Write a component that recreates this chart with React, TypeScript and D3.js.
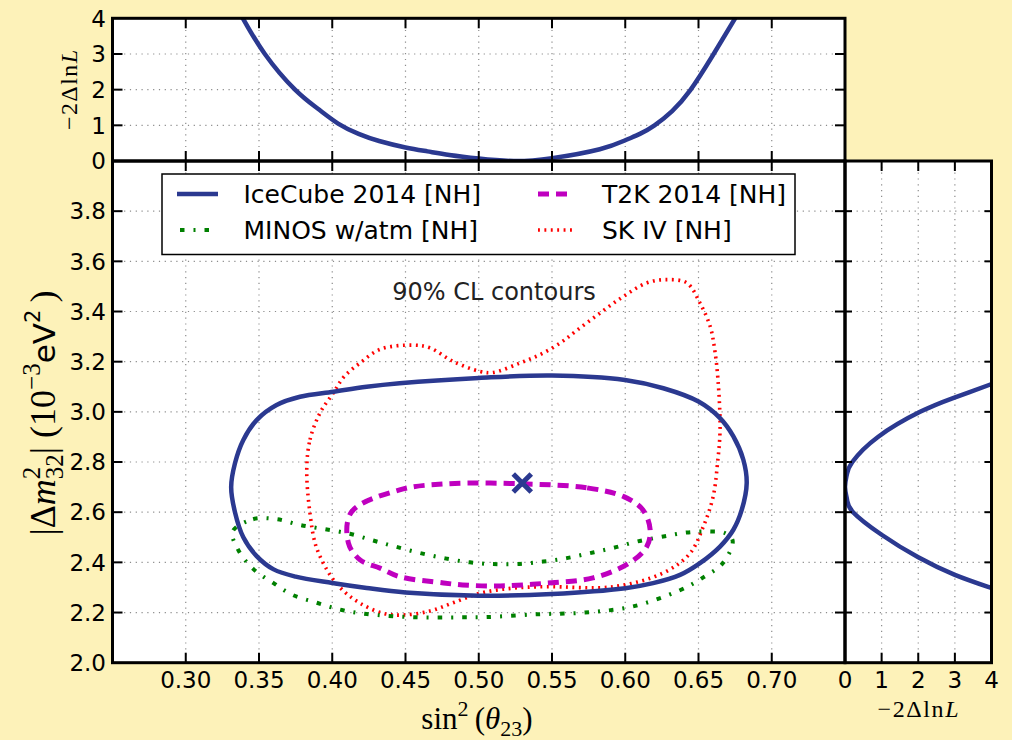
import React from 'react';
import * as d3 from 'd3';

// ---------- data ----------
const xTickValues = [0.30, 0.35, 0.40, 0.45, 0.50, 0.55, 0.60, 0.65, 0.70];
const xTickLabels = ['0.30', '0.35', '0.40', '0.45', '0.50', '0.55', '0.60', '0.65', '0.70'];
const yTickValues = [2.0, 2.2, 2.4, 2.6, 2.8, 3.0, 3.2, 3.4, 3.6, 3.8];
const yTickLabels = ['2.0', '2.2', '2.4', '2.6', '2.8', '3.0', '3.2', '3.4', '3.6', '3.8'];
const llTickValues = [0, 1, 2, 3, 4];
const llTickLabels = ['0', '1', '2', '3', '4'];

const iceCubeSin2 = [0.331, 0.3336, 0.3393, 0.3484, 0.362, 0.378, 0.4007, 0.4235, 0.446, 0.500, 0.550, 0.5998, 0.626, 0.650, 0.6647, 0.6738, 0.6806, 0.6829, 0.6795, 0.6738, 0.6647, 0.651, 0.6374, 0.619, 0.600, 0.550, 0.500, 0.450, 0.4235, 0.400, 0.375, 0.360, 0.3484, 0.3393, 0.3336];
const iceCubeDm2 = [2.700, 2.795, 2.888, 2.967, 3.027, 3.060, 3.080, 3.100, 3.114, 3.135, 3.145, 3.127, 3.094, 3.041, 2.975, 2.902, 2.809, 2.716, 2.609, 2.530, 2.463, 2.397, 2.350, 2.317, 2.297, 2.274, 2.267, 2.280, 2.298, 2.318, 2.343, 2.372, 2.425, 2.500, 2.600];

const t2kSin2 = [0.530, 0.574, 0.599, 0.612, 0.617, 0.6147, 0.603, 0.578, 0.546, 0.5146, 0.489, 0.476, 0.446, 0.4326, 0.419, 0.411, 0.413, 0.446, 0.478];
const t2kDm2 = [2.713, 2.697, 2.662, 2.610, 2.530, 2.463, 2.398, 2.338, 2.317, 2.306, 2.310, 2.318, 2.343, 2.377, 2.410, 2.478, 2.600, 2.689, 2.713];

const minosSin2 = [0.332, 0.346, 0.362, 0.378, 0.395, 0.412, 0.428, 0.443, 0.460, 0.477, 0.494, 0.510, 0.526, 0.544, 0.560, 0.576, 0.592, 0.608, 0.626, 0.642, 0.658, 0.668, 0.6733, 0.6668, 0.6538, 0.637, 0.605, 0.5725, 0.540, 0.5055, 0.489, 0.4565, 0.4235, 0.4065, 0.390, 0.373, 0.3597, 0.346, 0.3358];
const minosDm2 = [2.523, 2.572, 2.572, 2.549, 2.532, 2.514, 2.487, 2.463, 2.437, 2.416, 2.400, 2.393, 2.393, 2.403, 2.417, 2.437, 2.458, 2.483, 2.503, 2.519, 2.523, 2.517, 2.487, 2.398, 2.342, 2.288, 2.224, 2.200, 2.193, 2.182, 2.181, 2.181, 2.194, 2.210, 2.238, 2.270, 2.318, 2.374, 2.450];

const skSin2 = [0.3826, 0.3848, 0.3916, 0.4007, 0.408, 0.419, 0.433, 0.4553, 0.4667, 0.4826, 0.5009, 0.510, 0.5282, 0.5418, 0.5555, 0.567, 0.5828, 0.5987, 0.6147, 0.628, 0.642, 0.651, 0.658, 0.661, 0.6633, 0.6647, 0.663, 0.660, 0.6533, 0.6442, 0.626, 0.5918, 0.546, 0.523, 0.5009, 0.483, 0.4667, 0.448, 0.4347, 0.419, 0.407, 0.3985, 0.389, 0.3848];
const skDm2 = [2.770, 2.889, 2.995, 3.075, 3.140, 3.195, 3.250, 3.266, 3.255, 3.201, 3.161, 3.157, 3.195, 3.228, 3.274, 3.325, 3.394, 3.460, 3.514, 3.527, 3.514, 3.434, 3.340, 3.250, 3.128, 2.929, 2.796, 2.662, 2.543, 2.436, 2.358, 2.303, 2.303, 2.297, 2.277, 2.240, 2.206, 2.190, 2.197, 2.237, 2.290, 2.350, 2.463, 2.596];

const profileSin2 = [0.333, 0.339, 0.354, 0.3746, 0.390, 0.404, 0.418, 0.432, 0.450, 0.465, 0.480, 0.500, 0.524, 0.550, 0.5826, 0.600, 0.610, 0.620, 0.632, 0.6443, 0.6596, 0.675, 0.681];
const profileSin2LL = [4.45, 4.0, 3.0, 2.0, 1.47, 1.05, 0.76, 0.56, 0.38, 0.27, 0.17, 0.07, 0.0, 0.08, 0.33, 0.58, 0.76, 1.0, 1.4, 1.98, 2.95, 4.0, 4.4];

const profileDm2 = [2.27, 2.30, 2.35, 2.42, 2.51, 2.60, 2.65, 2.70, 2.75, 2.80, 2.90, 3.00, 3.055, 3.108, 3.14];
const profileDm2LL = [4.55, 3.95, 3.0, 2.0, 1.0, 0.22, 0.055, 0.0, 0.05, 0.2, 0.9, 2.05, 2.95, 3.95, 4.55];

const bestFitSin2 = 0.5297;
const bestFitDm2 = 2.716;

const legendNames = ['IceCube 2014 [NH]', 'MINOS w/atm [NH]', 'T2K 2014 [NH]', 'SK IV [NH]'];

// ---------- styles ----------
const BG = '#fdf2b9';
const BLUE = '#2b3990';
const GREEN = '#008000';
const MAGENTA = '#bf00bf';
const RED = '#ff0000';
const SANS = "'DejaVu Sans', sans-serif";
const SERIF = "'Liberation Serif', 'DejaVu Serif', serif";

const styles = {
  ice: { stroke: BLUE, strokeWidth: 4.5, dash: undefined as string | undefined },
  minos: { stroke: GREEN, strokeWidth: 4, dash: '4.5,9,2,9' },
  t2k: { stroke: MAGENTA, strokeWidth: 5, dash: '11,7' },
  sk: { stroke: RED, strokeWidth: 3.6, dash: '1.9,4.5' },
};

export default function App() {
  const L = 112.5, R = 845, R2 = 991.5, T = 18.3, M = 161, B = 662.7;
  const xMain = d3.scaleLinear().domain([0.25, 0.75]).range([L, R]);
  const yMain = d3.scaleLinear().domain([2.0, 4.0]).range([B, M]);
  const yTop = d3.scaleLinear().domain([0, 4]).range([M, T]);
  const xRight = d3.scaleLinear().domain([0, 4]).range([R, R2]);

  const contour = (xs: number[], ys: number[]) =>
    d3.line<number>()
      .x((_, i) => xMain(xs[i]))
      .y((_, i) => yMain(ys[i]))
      .curve(d3.curveCatmullRomClosed.alpha(0.5))(xs) || '';

  const topPath = d3.line<number>()
    .x((_, i) => xMain(profileSin2[i]))
    .y((_, i) => yTop(profileSin2LL[i]))
    .curve(d3.curveNatural)(profileSin2) || '';

  const rightPath = d3.line<number>()
    .x((_, i) => xRight(profileDm2LL[i]))
    .y((_, i) => yMain(profileDm2[i]))
    .curve(d3.curveNatural)(profileDm2) || '';

  const gridStyle = { stroke: '#8c8c8c', strokeWidth: 1.2, strokeDasharray: '1.2,4.6', fill: 'none' };
  const tickStyle = { stroke: '#000', strokeWidth: 2 };
  const TL = 10;

  const innerX = xTickValues;
  const innerY = yTickValues.slice(1);
  const innerLL = llTickValues.slice(1, 4);

  const bx = xMain(bestFitSin2), by = yMain(bestFitDm2);

  const legendItems = [
    { name: legendNames[0], s: styles.ice, x0: 177, x1: 218, tx: 243.5, y: 194 },
    { name: legendNames[1], s: styles.minos, x0: 180, x1: 218, tx: 243.5, y: 230 },
    { name: legendNames[2], s: styles.t2k, x0: 538, x1: 571, tx: 602, y: 194 },
    { name: legendNames[3], s: styles.sk, x0: 538, x1: 574, tx: 602, y: 230 },
  ];

  return (
    <svg width={1012} height={740} style={{ position: 'absolute', left: 0, top: 0 }}>
      <defs>
        <clipPath id="clipMain"><rect x={L} y={M} width={R - L} height={B - M} /></clipPath>
        <clipPath id="clipTop"><rect x={L} y={T} width={R - L} height={M - T} /></clipPath>
        <clipPath id="clipRight"><rect x={R} y={M} width={R2 - R} height={B - M} /></clipPath>
      </defs>
      <rect x={0} y={0} width={1012} height={740} fill={BG} />
      <rect x={L} y={T} width={R - L} height={M - T} fill="#fff" />
      <rect x={L} y={M} width={R - L} height={B - M} fill="#fff" />
      <rect x={R} y={M} width={R2 - R} height={B - M} fill="#fff" />

      {/* grids */}
      <g>
        {innerX.map((v) => (
          <line key={'gmx' + v} x1={xMain(v)} x2={xMain(v)} y1={M} y2={B} style={gridStyle} />
        ))}
        {innerY.map((v) => (
          <line key={'gmy' + v} x1={L} x2={R} y1={yMain(v)} y2={yMain(v)} style={gridStyle} />
        ))}
        {innerX.map((v) => (
          <line key={'gtx' + v} x1={xMain(v)} x2={xMain(v)} y1={T} y2={M} style={gridStyle} />
        ))}
        {innerLL.map((v) => (
          <line key={'gty' + v} x1={L} x2={R} y1={yTop(v)} y2={yTop(v)} style={gridStyle} />
        ))}
        {innerLL.map((v) => (
          <line key={'grx' + v} x1={xRight(v)} x2={xRight(v)} y1={M} y2={B} style={gridStyle} />
        ))}
        {innerY.map((v) => (
          <line key={'gry' + v} x1={R} x2={R2} y1={yMain(v)} y2={yMain(v)} style={gridStyle} />
        ))}
      </g>

      {/* contours */}
      <g clipPath="url(#clipMain)" fill="none">
        <path d={contour(skSin2, skDm2)} stroke={RED} strokeWidth={styles.sk.strokeWidth} strokeDasharray={styles.sk.dash} />
        <path d={contour(minosSin2, minosDm2)} stroke={GREEN} strokeWidth={styles.minos.strokeWidth} strokeDasharray={styles.minos.dash} />
        <path d={contour(t2kSin2, t2kDm2)} stroke={MAGENTA} strokeWidth={styles.t2k.strokeWidth} strokeDasharray={styles.t2k.dash} />
        <path d={contour(iceCubeSin2, iceCubeDm2)} stroke={BLUE} strokeWidth={styles.ice.strokeWidth} />
        <path d={`M${bx - 9},${by - 9}L${bx + 9},${by + 9}M${bx - 9},${by + 9}L${bx + 9},${by - 9}`} stroke={BLUE} strokeWidth={5} />
      </g>
      <g clipPath="url(#clipTop)" fill="none">
        <path d={topPath} stroke={BLUE} strokeWidth={4.5} />
      </g>
      <g clipPath="url(#clipRight)" fill="none">
        <path d={rightPath} stroke={BLUE} strokeWidth={4.5} />
      </g>

      {/* ticks */}
      <g style={tickStyle}>
        {innerX.map((v) => (
          <g key={'tx' + v}>
            <line x1={xMain(v)} x2={xMain(v)} y1={B} y2={B - TL} />
            <line x1={xMain(v)} x2={xMain(v)} y1={M} y2={M + TL} />
            <line x1={xMain(v)} x2={xMain(v)} y1={M} y2={M - TL} />
            <line x1={xMain(v)} x2={xMain(v)} y1={T} y2={T + TL} />
          </g>
        ))}
        {innerY.map((v) => (
          <g key={'ty' + v}>
            <line x1={L} x2={L + TL} y1={yMain(v)} y2={yMain(v)} />
            <line x1={R} x2={R - TL} y1={yMain(v)} y2={yMain(v)} />
            <line x1={R} x2={R + 7} y1={yMain(v)} y2={yMain(v)} />
            <line x1={R2} x2={R2 - 7} y1={yMain(v)} y2={yMain(v)} />
          </g>
        ))}
        {innerLL.map((v) => (
          <g key={'tl' + v}>
            <line x1={L} x2={L + TL} y1={yTop(v)} y2={yTop(v)} />
            <line x1={R} x2={R - TL} y1={yTop(v)} y2={yTop(v)} />
            <line x1={xRight(v)} x2={xRight(v)} y1={B} y2={B - TL} />
            <line x1={xRight(v)} x2={xRight(v)} y1={M} y2={M + TL} />
          </g>
        ))}
      </g>

      {/* spines */}
      <g fill="none" stroke="#000" strokeWidth={3}>
        <rect x={L} y={T} width={R - L} height={M - T} />
        <rect x={L} y={M} width={R - L} height={B - M} />
        <rect x={R} y={M} width={R2 - R} height={B - M} />
      </g>

      {/* tick labels */}
      <g fontFamily={SANS} fontSize={23} fill="#000">
        {xTickValues.map((v, i) => (
          <text key={'xl' + v} x={xMain(v)} y={688} textAnchor="middle">{xTickLabels[i]}</text>
        ))}
        {yTickValues.map((v, i) => (
          <text key={'yl' + v} x={106} y={yMain(v) + 8.3} textAnchor="end">{yTickLabels[i]}</text>
        ))}
        {llTickValues.map((v, i) => (
          <text key={'tl' + v} x={106} y={yTop(v) + 8.3} textAnchor="end">{llTickLabels[i]}</text>
        ))}
        {llTickValues.map((v, i) => (
          <text key={'rl' + v} x={xRight(v)} y={688} textAnchor="middle">{llTickLabels[i]}</text>
        ))}
      </g>

      {/* legend */}
      <rect x={162} y={174} width={633} height={80.5} fill="#fff" stroke="#000" strokeWidth={1.5} />
      {legendItems.map((it) => (
        <g key={it.name}>
          <line x1={it.x0} x2={it.x1} y1={it.y} y2={it.y} stroke={it.s.stroke} strokeWidth={it.s.strokeWidth}
            strokeDasharray={it.s.dash} />
          <text x={it.tx} y={it.y + 9.2} fontFamily={SANS} fontSize={25} fill="#000">{it.name}</text>
        </g>
      ))}

      <text x={494} y={300} textAnchor="middle" fontFamily={SANS} fontSize={24} fill="#222">90% CL contours</text>

      {/* axis labels */}
      <text x={477} y={729} textAnchor="middle" fontFamily={SERIF} fontSize={31} fill="#000">
        <tspan>sin</tspan>
        <tspan fontSize={22} dy={-13}>2</tspan>
        <tspan dy={13}>{'\u2009('}</tspan>
        <tspan fontStyle="italic">θ</tspan>
        <tspan fontSize={22} dy={7}>23</tspan>
        <tspan dy={-7}>)</tspan>
      </text>

      <text transform="translate(55,413) rotate(-90)" textAnchor="middle" fontFamily={SERIF} fontSize={36} fill="#000">
        <tspan>|Δ</tspan>
        <tspan fontStyle="italic">m</tspan>
        <tspan fontSize={25} dy={-15}>2</tspan>
        <tspan fontSize={25} dx={-12.5} dy={23}>32</tspan>
        <tspan dy={-8}>|</tspan>
        <tspan>{' (10'}</tspan>
        <tspan fontSize={25} dy={-15}>−3</tspan>
        <tspan fontFamily={SANS} fontSize={31} dy={15}>eV</tspan>
        <tspan fontFamily={SANS} fontSize={21} dy={-15}>2</tspan>
        <tspan dy={15}>{'\u2009)'}</tspan>
      </text>

      <text transform="translate(77,90) rotate(-90)" textAnchor="middle" fontFamily={SERIF} fontSize={24} fill="#000"
        textLength={80} lengthAdjust="spacing">
        <tspan>−2Δln</tspan><tspan fontStyle="italic">L</tspan>
      </text>

      <text x={918} y={716.5} textAnchor="middle" fontFamily={SERIF} fontSize={24} fill="#000"
        textLength={81} lengthAdjust="spacing">
        <tspan>−2Δln</tspan><tspan fontStyle="italic">L</tspan>
      </text>
    </svg>
  );
}
